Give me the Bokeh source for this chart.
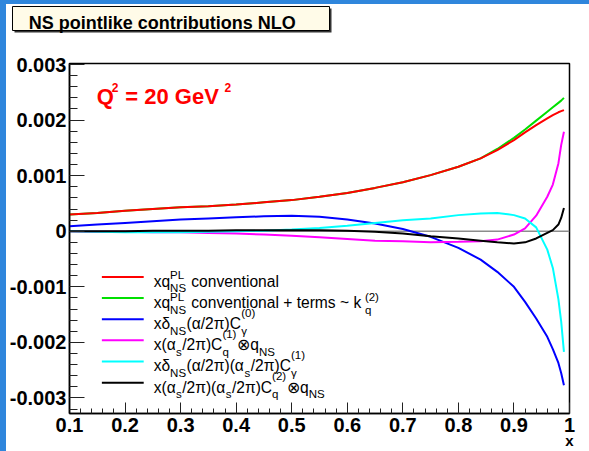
from bokeh.plotting import figure
from bokeh.models import Range1d, FixedTicker, Label, Span, Spacer
from bokeh.layouts import row, column
from bokeh.embed import file_html
from bokeh.resources import INLINE

# ---------------- data ----------------
x = [0.10, 0.15, 0.20, 0.25, 0.30, 0.35, 0.40, 0.45, 0.50, 0.55, 0.60, 0.65,
     0.70, 0.75, 0.80, 0.84, 0.87, 0.90, 0.92, 0.94, 0.96, 0.97, 0.98, 0.985, 0.99]

xq_pl_conv = [0.00030, 0.00033, 0.00037, 0.00040, 0.00043, 0.00045, 0.00048, 0.00052,
              0.00056, 0.00062, 0.00069, 0.00078, 0.00088, 0.00101, 0.00116, 0.00131,
              0.00146, 0.00164, 0.00178, 0.00191, 0.00203, 0.00209, 0.00214, 0.00216, 0.00218]

xq_pl_conv_k2 = [0.00030, 0.00033, 0.00037, 0.00040, 0.00043, 0.00045, 0.00048, 0.00052,
                 0.00056, 0.00062, 0.00069, 0.00078, 0.00088, 0.00101, 0.00116, 0.00131,
                 0.00148, 0.00168, 0.00183, 0.00199, 0.00215, 0.00223, 0.00231, 0.00235, 0.00240]

delta_c0 = [0.00009, 0.00012, 0.00015, 0.00018, 0.00021, 0.00023, 0.00025, 0.00027,
            0.00028, 0.00026, 0.00021, 0.00014, 0.00004, -0.00010, -0.00030, -0.00051,
            -0.00073, -0.00100, -0.00127, -0.00157, -0.00190, -0.00212, -0.00237, -0.00255, -0.00277]

alphas_c1q = [0.00000, -0.00001, -0.00001, -0.00002, -0.00002, -0.00003, -0.00004, -0.00006,
              -0.00008, -0.00011, -0.00014, -0.00017, -0.00018, -0.00020, -0.00019, -0.00018,
              -0.00015, -0.00006, 0.00005, 0.00028, 0.00062, 0.00084, 0.00122, 0.00155, 0.00179]

delta_alphas_c1 = [0.00000, -0.00001, -0.00002, -0.00002, -0.00002, -0.00001, 0.00000, 0.00001,
                   0.00003, 0.00006, 0.00010, 0.00015, 0.00020, 0.00023, 0.00029, 0.00032,
                   0.00033, 0.00029, 0.00023, 0.00007, -0.00033, -0.00066, -0.00122, -0.00162, -0.00217]

alphas2_c2q = [0.00000, 0.00000, 0.00000, 0.00001, 0.00001, 0.00001, 0.00002, 0.00002,
               0.00002, 0.00002, 0.00001, -0.00001, -0.00004, -0.00009, -0.00013, -0.00017,
               -0.00020, -0.00022, -0.00020, -0.00013, -0.00003, 0.00002, 0.00012, 0.00024, 0.00042]

x_ticks = [0.1, 0.2, 0.3, 0.4, 0.5, 0.6, 0.7, 0.8, 0.9, 1]
x_tick_labels = ["0.1", "0.2", "0.3", "0.4", "0.5", "0.6", "0.7", "0.8", "0.9", "1"]
y_ticks = [-0.003, -0.002, -0.001, 0, 0.001, 0.002, 0.003]
y_tick_labels = ["-0.003", "-0.002", "-0.001", "0", "0.001", "0.002", "0.003"]

# ---------------- geometry (page pixels) ----------------
FONT = "Liberation Sans"
BLUE = "#2f86dc"
OX, OY = 6, 4                       # blue page edge on the left and on top
W = 589 - OX
HEAD_H = 44                         # header strip holding the title box
MAIN_H = 451 - OY - HEAD_H
MAIN_TOP = OY + HEAD_H
FL, FR, FT, FB = 67, 569, 63, 415   # frame edges
X_MIN, X_MAX = 0.1, 1.0
Y_MIN, Y_MAX = -0.003279, 0.003018


def dx(px):
    return X_MIN + (px - FL) / (FR - FL) * (X_MAX - X_MIN)


def dy(py):
    return Y_MAX - (py - FT) / (FB - FT) * (Y_MAX - Y_MIN)


# ---------------- header with the title box ----------------
head = figure(width=W, height=HEAD_H, output_backend="svg", toolbar_location=None,
              title=None, x_range=Range1d(0, W), y_range=Range1d(HEAD_H, 0),
              x_axis_location=None, y_axis_location=None,
              min_border=0, min_border_left=0, min_border_right=0,
              min_border_top=0, min_border_bottom=0)
head.outline_line_color = None
head.background_fill_color = "white"
head.border_fill_color = "white"
head.xgrid.visible = False
head.ygrid.visible = False
bx0, bx1, by0, by1 = 12 - OX, 329 - OX, 6 - OY, 30 - OY
head.quad(left=bx0 + 2, right=bx1 + 2, top=by0 + 2, bottom=by1 + 2,
          fill_color="#333333", line_color=None)
head.quad(left=bx0, right=bx1, top=by0, bottom=by1,
          fill_color="#fffbe8", line_color="black", line_width=1)
head.add_layout(Label(x=28.3 - OX, y=22.7 - OY, text="NS pointlike contributions NLO",
                      text_font=FONT, text_font_size="18px", text_font_style="bold",
                      text_color="black", text_baseline="alphabetic"))

# ---------------- main plot ----------------
p = figure(width=W, height=MAIN_H, output_backend="svg", toolbar_location=None, title=None,
           x_range=Range1d(X_MIN, X_MAX), y_range=Range1d(Y_MIN, Y_MAX),
           min_border_left=FL - OX, min_border_right=OX + W - FR,
           min_border_top=FT - MAIN_TOP, min_border_bottom=451 - FB)
p.background_fill_color = "white"
p.border_fill_color = "white"
p.outline_line_color = "black"
p.outline_line_width = 1.5
p.xgrid.visible = False
p.ygrid.visible = False

minor_x = [round(0.1 + 0.02 * i, 2) for i in range(46)]
minor_y = [round(-0.0032 + 0.0002 * i, 4) for i in range(32)]
p.xaxis.ticker = FixedTicker(ticks=x_ticks, minor_ticks=minor_x)
p.yaxis.ticker = FixedTicker(ticks=y_ticks, minor_ticks=minor_y)
p.xaxis.major_label_overrides = dict(zip(x_ticks, x_tick_labels))
p.yaxis.major_label_overrides = dict(zip(y_ticks, y_tick_labels))

for ax in (p.xaxis, p.yaxis):
    ax.axis_line_width = 1.5
    ax.major_tick_out = 0
    ax.minor_tick_out = 0
    ax.major_tick_line_color = "#222222"
    ax.minor_tick_line_color = "#222222"
    ax.major_label_text_font = FONT
    ax.major_label_text_font_style = "bold"
    ax.major_label_text_font_size = "20px"
    ax.major_label_text_color = "black"
p.xaxis.major_tick_in = 11
p.xaxis.minor_tick_in = 5
p.xaxis.major_label_standoff = 4
p.yaxis.major_tick_in = 15
p.yaxis.minor_tick_in = 8
p.yaxis.major_label_standoff = 3

# x axis title at the right end, tucked under the tick labels
p.xaxis.axis_label = "x"
p.xaxis.axis_label_align = "end"
p.xaxis.axis_label_standoff = -3
p.xaxis.axis_label_text_font = FONT
p.xaxis.axis_label_text_font_style = "bold"
p.xaxis.axis_label_text_font_size = "15px"
p.xaxis.axis_label_text_color = "black"

p.add_layout(Span(location=0, dimension="width", line_color="#8c8c8c",
                  line_width=1.5, level="underlay"))

# ---------------- curves ----------------
curves = [
    (xq_pl_conv_k2, "#00e000"),
    (xq_pl_conv, "#ff0000"),
    (delta_c0, "#0000ff"),
    (alphas_c1q, "#ff00ff"),
    (delta_alphas_c1, "#00ffff"),
    (alphas2_c2q, "#000000"),
]
for ys, col in curves:
    p.line(x, ys, line_color=col, line_width=2)

# ---------------- text helpers ----------------
REG = {' ': .278, '(': .333, ')': .333, '+': .584, '/': .278, '~': .584,
       '0': .556, '1': .556, '2': .556, 'C': .722, 'L': .556, 'N': .722,
       'P': .667, 'S': .667, 'a': .556, 'c': .5, 'e': .556, 'i': .222,
       'k': .5, 'l': .222, 'm': .833, 'n': .556, 'o': .556, 'q': .556,
       'r': .333, 's': .5, 't': .278, 'v': .5, 'x': .5,
       'α': .6, 'δ': .556, 'π': .7, 'γ': .5, '⊗': .84}


def width(s, size):
    return sum(REG.get(c, .556) for c in s) * size


def put(text, px, py, size, color="black", bold=False, align="left"):
    p.add_layout(Label(x=dx(px), y=dy(py), text=text, text_font=FONT,
                       text_font_size=f"{size}px",
                       text_font_style="bold" if bold else "normal",
                       text_color=color, text_align=align,
                       text_baseline="alphabetic"))


LEG_FS, SMALL_FS = 15.6, 11.5


def rich(parts, px, base):
    cur = px
    last = "x"
    for part in parts:
        kind = part[0]
        if kind == "n":
            txt = part[1]
            lead = len(txt) - len(txt.lstrip(" "))
            cur += width(" " * lead, LEG_FS)
            body = txt.strip(" ")
            put(body, cur, base, LEG_FS)
            cur += width(txt.lstrip(" "), LEG_FS)
            last = body[-1]
        elif kind == "sub":
            put(part[1], cur, base + 7, SMALL_FS)
            cur += width(part[1], SMALL_FS) + 0.5
        elif kind == "ss":
            up = 11 if last.isupper() else 6
            put(part[1], cur, base - up, SMALL_FS)
            put(part[2], cur, base + 7, SMALL_FS)
            cur += max(width(part[1], SMALL_FS), width(part[2], SMALL_FS)) + 1


# ---------------- Q^2 label ----------------
RED = "#ff0000"
put("Q", 94.3, 96, 22, color=RED, bold=True)
put("2", 109.5, 87, 12, color=RED, bold=True)
put("= 20 GeV", 123, 96, 22, color=RED, bold=True)
put("2", 222.5, 87, 12, color=RED, bold=True)

# ---------------- legend ----------------
legend_rows = [
    ("#ff0000", [("n", "xq"), ("ss", "PL", "NS"), ("n", " conventional")]),
    ("#00e000", [("n", "xq"), ("ss", "PL", "NS"), ("n", " conventional + terms ~ k "),
                 ("ss", "(2)", "q")]),
    ("#0000ff", [("n", "xδ"), ("sub", "NS"), ("n", "(α/2π)C"), ("ss", "(0)", "γ")]),
    ("#ff00ff", [("n", "x(α"), ("sub", "s"), ("n", "/2π)C"), ("ss", "(1)", "q"),
                 ("n", "⊗q"), ("sub", "NS")]),
    ("#00ffff", [("n", "xδ"), ("sub", "NS"), ("n", "(α/2π)(α"), ("sub", "s"),
                 ("n", "/2π)C"), ("ss", "(1)", "γ")]),
    ("#000000", [("n", "x(α"), ("sub", "s"), ("n", "/2π)(α"), ("sub", "s"),
                 ("n", "/2π)C"), ("ss", "(2)", "q"), ("n", "⊗q"), ("sub", "NS")]),
]
for i, (col, parts) in enumerate(legend_rows):
    ly = 277.7 + 21.25 * i
    p.segment(x0=dx(99.5), y0=dy(ly), x1=dx(141.5), y1=dy(ly), line_color=col, line_width=2)
    rich(parts, 151.5, ly + 4.5)

# the header sits in its own row so that its frame is not lined up with the plot frame
layout = row(
    Spacer(width=OX, height=451, styles={"background-color": BLUE}),
    column(Spacer(width=W, height=OY, styles={"background-color": BLUE}), row(head), p),
)

open("out.html", "w").write(file_html(layout, INLINE))
